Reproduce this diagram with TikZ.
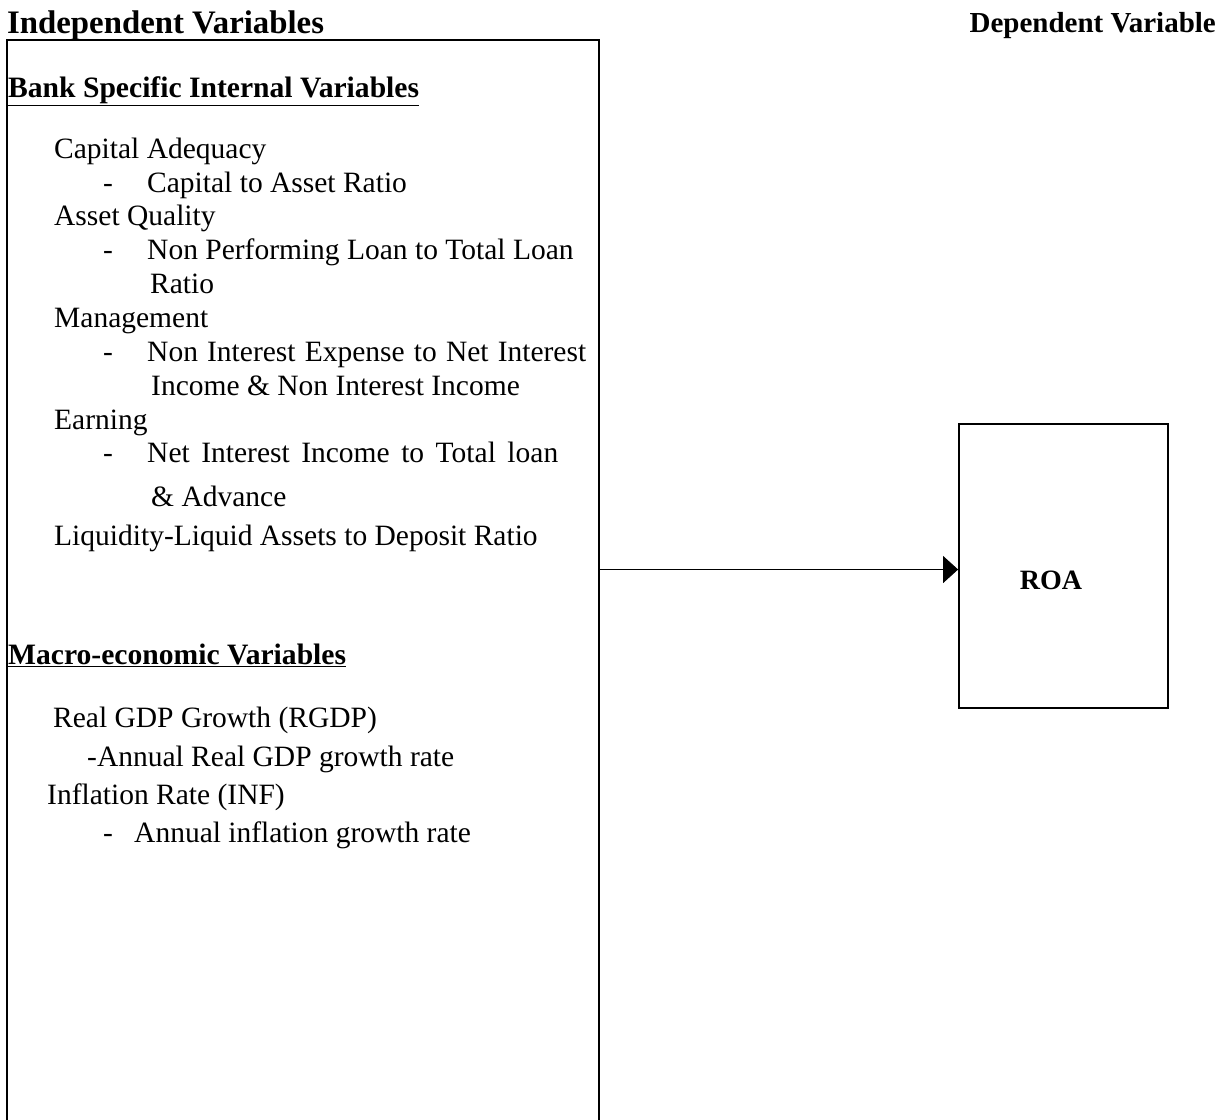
\documentclass[tikz,border=0pt]{standalone}
\usepackage{fontspec}
\setmainfont{Liberation Serif}
\usetikzlibrary{arrows.meta}
\begin{document}
\begin{tikzpicture}[x=1pt,y=-1pt,
  txt/.style={anchor=base west,inner sep=0pt,font=\fontsize{29.5}{34}\selectfont},
  head/.style={anchor=base west,inner sep=0pt,font=\fontsize{29.6}{34}\selectfont\bfseries},
  title/.style={anchor=base west,inner sep=0pt,font=\fontsize{32.8}{36}\selectfont\bfseries},
  frame/.style={line width=1.6pt},
  link/.style={line width=0.9pt,-{Triangle[length=15pt,width=27pt]}}]
\useasboundingbox (0,0) rectangle (1228,1119);
% titles
\node[title] (indep) at (7,33) {Independent Variables};
\node[title,anchor=base east,font=\fontsize{29}{32}\selectfont\bfseries] (dep) at (1216,32) {Dependent Variable};
% left box
\coordinate (bl) at (7,1125);
\coordinate (tl) at (7,40);
\coordinate (tr) at (599,40);
\coordinate (br) at (599,1125);
\draw[frame] (bl) -- (tl) -- (tr) -- (br);
% bank specific
\node[head] (bank) at (8,97) {\underline{Bank Specific Internal Variables}};
\node[txt] (ca) at (54,158) {Capital Adequacy};
\node[txt] (d1) at (103,192) {-};
\node[txt] (car) at (147,192) {Capital to Asset Ratio};
\node[txt] (aq) at (54,225) {Asset Quality};
\node[txt] (d2) at (103,259) {-};
\node[txt] (npl) at (147,259) {Non Performing Loan to Total Loan};
\node[txt] (npl2) at (150,293) {Ratio};
\node[txt] (mg) at (54,327) {Management};
\node[txt] (d3) at (103,361) {-};
\node[txt] (nie) at (147,361) {\makebox[439pt][s]{Non Interest Expense to Net Interest}};
\node[txt] (nie2) at (151,395) {Income \& Non Interest Income};
\node[txt] (ea) at (54,429) {Earning};
\node[txt] (d4) at (103,462) {-};
\node[txt] (nii) at (147,462) {\makebox[411pt][s]{Net Interest Income to Total loan}};
\node[txt] (nii2) at (151,506) {\& Advance};
\node[txt] (liq) at (54,545) {Liquidity-Liquid Assets to Deposit Ratio};
% macro
\node[head] (macro) at (8,664) {\underline{Macro-economic Variables}};
\node[txt] (rgdp) at (53,727) {Real GDP Growth (RGDP)};
\node[txt] (rgdp2) at (87,766) {-Annual Real GDP growth rate};
\node[txt] (inf) at (47,804) {Inflation Rate (INF)};
\node[txt] (d5) at (103,842) {-};
\node[txt] (inf2) at (134,842) {Annual inflation growth rate};
% ROA
\node[draw,line width=1.8pt,minimum width=209pt,minimum height=284pt,inner sep=0pt] (roa) at (1063.5,566) {};
\node[anchor=base,inner sep=0pt,font=\fontsize{28}{32}\selectfont\bfseries] (roat) at (1051,589) {ROA};
\draw[link] (roa.west -| tr) ++(0,3.5) coordinate (as) -- (as -| roa.west);
\end{tikzpicture}
\end{document}
